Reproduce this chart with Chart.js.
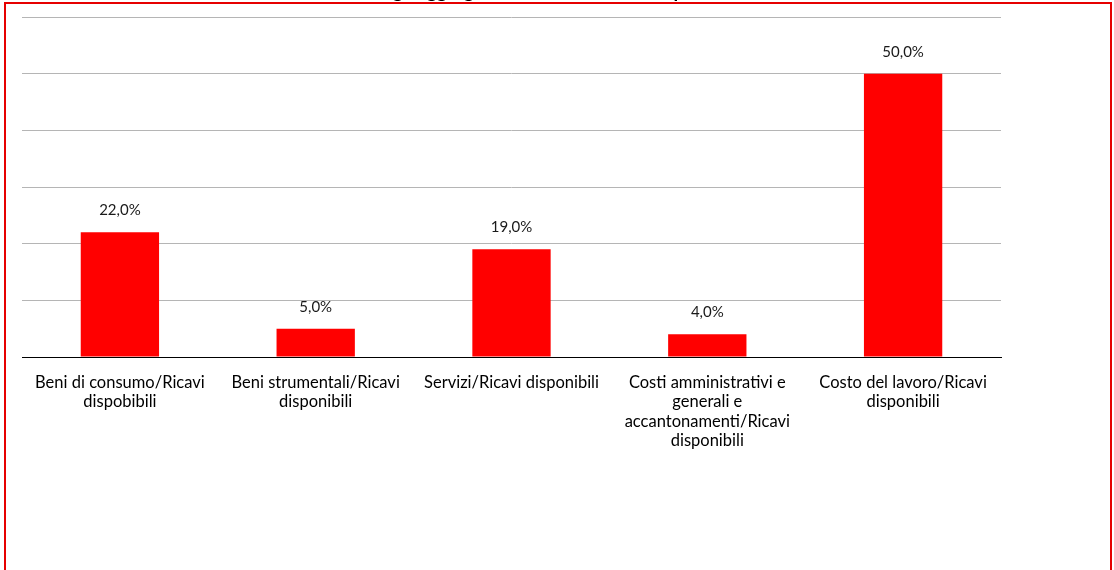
<!DOCTYPE html>
<html>
<head>
<meta charset="utf-8">
<script src="https://cdn.jsdelivr.net/npm/chart.js@4.4.1/dist/chart.umd.min.js"></script>
<style>
  html, body { margin: 0; padding: 0; background: #fff; overflow: hidden; }
  #wrap { position: absolute; left: 0; top: -20px; width: 1114px; height: 590px; }
  #frame { position: absolute; left: 4px; top: 2px; width: 1104px; height: 620px; border: 2px solid #e60000; pointer-events: none; }
</style>
</head>
<body>
<div id="wrap"><canvas id="costChart" width="1114" height="590"></canvas></div>
<div id="frame"></div>
<script>
// Cost aggregates as a share of available revenues
const categories = [
  ['Beni di consumo/Ricavi', 'dispobibili'],
  ['Beni strumentali/Ricavi', 'disponibili'],
  ['Servizi/Ricavi disponibili'],
  ['Costi amministrativi e', 'generali e', 'accantonamenti/Ricavi', 'disponibili'],
  ['Costo del lavoro/Ricavi', 'disponibili']
];
const percentages = [22.0, 5.0, 19.0, 4.0, 50.0];
const yTicks = [0, 10, 20, 30, 40, 50, 60];
const chartTitle = 'Incidenza degli aggregati di costo sui ricavi disponibili';

const FONT = 'Lato, Calibri, "Open Sans", sans-serif';

// writes the value above each bar, Italian style decimals
const barValueLabels = {
  id: 'barValueLabels',
  afterDatasetsDraw(chart) {
    const ctx = chart.ctx;
    const meta = chart.getDatasetMeta(0);
    ctx.save();
    ctx.font = '15px ' + FONT;
    ctx.fillStyle = '#1a1a1a';
    ctx.textAlign = 'center';
    ctx.textBaseline = 'middle';
    meta.data.forEach((bar, i) => {
      const txt = percentages[i].toFixed(1).replace('.', ',') + '%';
      ctx.fillText(txt, bar.x, bar.y - 22);
    });
    ctx.restore();
  }
};

const ctx = document.getElementById('costChart').getContext('2d');
new Chart(ctx, {
  type: 'bar',
  data: {
    labels: categories,
    datasets: [{
      data: percentages,
      backgroundColor: '#ff0000',
      borderWidth: 0,
      barPercentage: 0.4,
      categoryPercentage: 1.0
    }]
  },
  options: {
    responsive: false,
    animation: false,
    layout: { padding: { left: 22, right: 113, top: 0, bottom: 0 } },
    plugins: {
      legend: { display: false },
      tooltip: { enabled: false },
      title: {
        display: true,
        text: chartTitle,
        color: '#000',
        font: { family: FONT, size: 19, weight: 'bold', lineHeight: 1.2 },
        padding: { top: 0, bottom: 14.2 }
      }
    },
    scales: {
      x: {
        grid: { display: false, drawTicks: false },
        border: { display: true, color: '#000', width: 1 },
        ticks: {
          color: '#000',
          font: { family: FONT, size: 16.5, lineHeight: 1.17 },
          padding: 16,
          maxRotation: 0,
          autoSkip: false
        },
        afterFit(scale) { scale.height = 213; }
      },
      y: {
        min: yTicks[0],
        max: yTicks[yTicks.length - 1],
        afterBuildTicks(scale) { scale.ticks = yTicks.map(v => ({ value: v })); },
        grid: {
          drawTicks: false,
          color: c => (c.tick && c.tick.value === 0) ? 'rgba(0,0,0,0)' : '#b5b5b5'
        },
        border: { display: false },
        ticks: { display: false },
        afterFit(scale) { scale.width = 0; }
      }
    }
  },
  plugins: [barValueLabels]
});
</script>
</body>
</html>
